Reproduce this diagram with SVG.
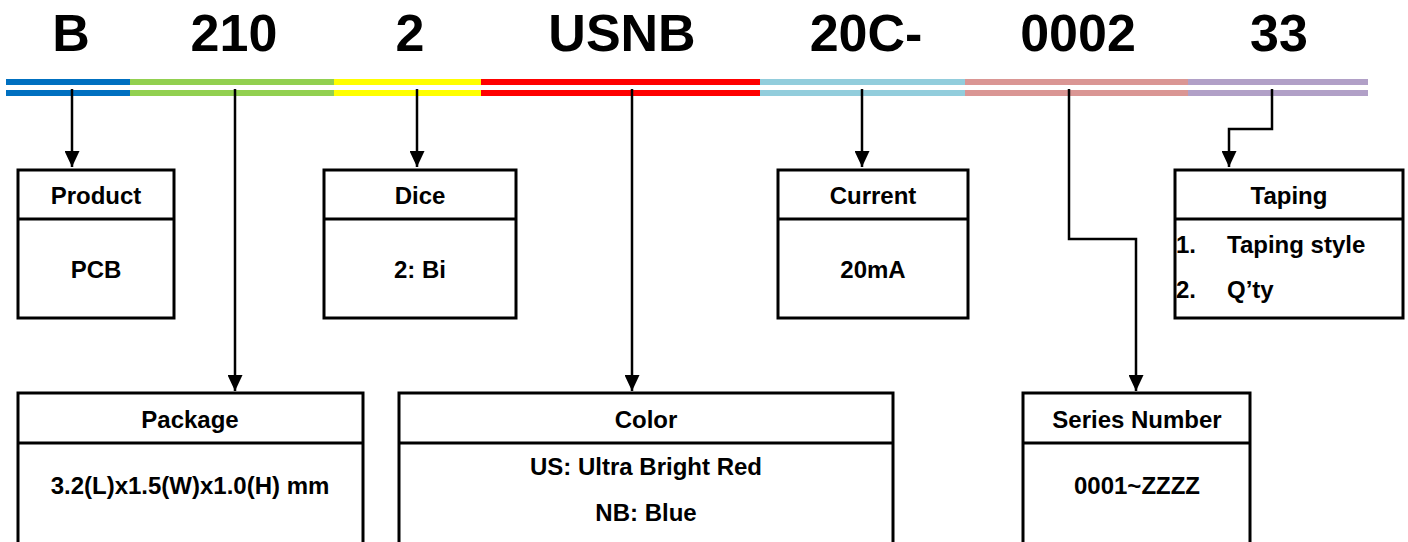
<svg xmlns="http://www.w3.org/2000/svg" width="1408" height="542" viewBox="0 0 1408 542">
<style>
.t{font-family:"Liberation Sans",Arial,sans-serif;font-weight:bold;fill:#000}
.title{font-size:52px;text-anchor:middle}
.lab{font-size:24px;text-anchor:middle}
.lft{font-size:24px}
.box{fill:#fff;stroke:#000;stroke-width:3}
.div{stroke:#000;stroke-width:3}
.con{fill:none;stroke:#000;stroke-width:2.5}
</style>
<defs>
<marker id="ah" markerWidth="16" markerHeight="15" refX="16" refY="7.5" orient="auto" markerUnits="userSpaceOnUse">
<path d="M0,0 L16,7.5 L0,15 Z" fill="#000"/>
</marker>
</defs>
<g id="title">
<text class="t title" x="71" y="51">B</text>
<text class="t title" x="234" y="51">210</text>
<text class="t title" x="410" y="51">2</text>
<text class="t title" x="622" y="51">USNB</text>
<text class="t title" x="866" y="51">20C-</text>
<text class="t title" x="1078" y="51">0002</text>
<text class="t title" x="1279" y="51">33</text>
</g>
<g id="bars">
<rect x="6" y="79" width="124" height="6" fill="#0070C0"/><rect x="6" y="90" width="124" height="6" fill="#0070C0"/>
<rect x="130" y="79" width="204" height="6" fill="#92D050"/><rect x="130" y="90" width="204" height="6" fill="#92D050"/>
<rect x="334" y="79" width="147" height="6" fill="#FFFF00"/><rect x="334" y="90" width="147" height="6" fill="#FFFF00"/>
<rect x="481" y="79" width="279" height="6" fill="#FF0000"/><rect x="481" y="90" width="279" height="6" fill="#FF0000"/>
<rect x="760" y="79" width="205" height="6" fill="#92CDDC"/><rect x="760" y="90" width="205" height="6" fill="#92CDDC"/>
<rect x="965" y="79" width="223" height="6" fill="#DA9694"/><rect x="965" y="90" width="223" height="6" fill="#DA9694"/>
<rect x="1188" y="79" width="180" height="6" fill="#B1A0C7"/><rect x="1188" y="90" width="180" height="6" fill="#B1A0C7"/>
</g>
<g id="connectors">
<path class="con" d="M72,89 V167" marker-end="url(#ah)"/>
<path class="con" d="M235,89 V391" marker-end="url(#ah)"/>
<path class="con" d="M417,89 V167" marker-end="url(#ah)"/>
<path class="con" d="M632,89 V391" marker-end="url(#ah)"/>
<path class="con" d="M862,89 V167" marker-end="url(#ah)"/>
<path class="con" d="M1069,89 V239 H1136 V391" marker-end="url(#ah)"/>
<path class="con" d="M1272,89 V129 H1229 V167" marker-end="url(#ah)"/>
</g>
<g id="product">
<rect class="box" x="18" y="170" width="156" height="148"/>
<line class="div" x1="18" y1="219" x2="174" y2="219"/>
<text class="t lab" x="96" y="204">Product</text>
<text class="t lab" x="96" y="278">PCB</text>
</g>
<g id="dice">
<rect class="box" x="324" y="170" width="192" height="148"/>
<line class="div" x1="324" y1="219" x2="516" y2="219"/>
<text class="t lab" x="420" y="204">Dice</text>
<text class="t lab" x="420" y="278">2: Bi</text>
</g>
<g id="current">
<rect class="box" x="778" y="170" width="190" height="148"/>
<line class="div" x1="778" y1="219" x2="968" y2="219"/>
<text class="t lab" x="873" y="204">Current</text>
<text class="t lab" x="873" y="278">20mA</text>
</g>
<g id="taping">
<rect class="box" x="1175" y="170" width="228" height="148"/>
<line class="div" x1="1175" y1="219" x2="1403" y2="219"/>
<text class="t lab" x="1289" y="204">Taping</text>
<text class="t lft" x="1176" y="253">1.</text>
<text class="t lft" x="1227" y="253">Taping style</text>
<text class="t lft" x="1176" y="298">2.</text>
<text class="t lft" x="1227" y="298">Q’ty</text>
</g>
<g id="package">
<rect class="box" x="18" y="393" width="345" height="152"/>
<line class="div" x1="18" y1="443" x2="363" y2="443"/>
<text class="t lab" x="190" y="428">Package</text>
<text class="t lab" x="190" y="494">3.2(L)x1.5(W)x1.0(H) mm</text>
</g>
<g id="color">
<rect class="box" x="399" y="393" width="494" height="152"/>
<line class="div" x1="399" y1="443" x2="893" y2="443"/>
<text class="t lab" x="646" y="428">Color</text>
<text class="t lab" x="646" y="475">US: Ultra Bright Red</text>
<text class="t lab" x="646" y="521">NB: Blue</text>
</g>
<g id="series">
<rect class="box" x="1023" y="393" width="227" height="152"/>
<line class="div" x1="1023" y1="443" x2="1250" y2="443"/>
<text class="t lab" x="1137" y="428">Series Number</text>
<text class="t lab" x="1137" y="494">0001~ZZZZ</text>
</g>
</svg>
